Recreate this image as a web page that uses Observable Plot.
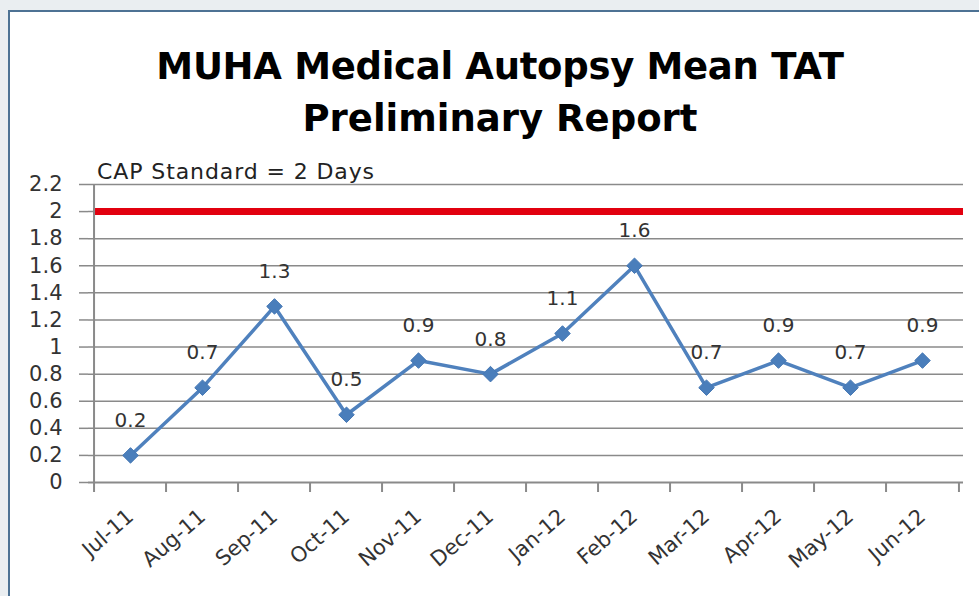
<!DOCTYPE html>
<html>
<head>
<meta charset="utf-8">
<script src="https://cdn.jsdelivr.net/npm/d3@7"></script>
<script src="https://cdn.jsdelivr.net/npm/@observablehq/plot@0.6"></script>
<style>
  html, body { margin: 0; padding: 0; width: 979px; height: 596px; overflow: hidden; background: #eaeef1; }
  #frame { position: absolute; left: 8px; top: 10px; width: 990px; height: 600px; background: #fff;
           border-left: 2px solid #4d7294; border-top: 2px solid #4d7294; }
  .title { position: absolute; left: 100px; width: 800px; text-align: center; font-family: "DejaVu Sans", sans-serif;
           font-weight: bold; font-size: 37px; line-height: 37px; color: #000; white-space: nowrap; }
  #cap { position: absolute; left: 97px; top: 161px; font-family: "DejaVu Sans", sans-serif; font-size: 22px;
         line-height: 22px; color: #222; white-space: nowrap; letter-spacing: 0.9px; }
  #chart { position: absolute; left: 0; top: 0; }
</style>
</head>
<body>
<div id="frame"></div>
<div class="title" style="top:48px; letter-spacing:-0.3px;">MUHA Medical Autopsy Mean TAT</div>
<div class="title" style="top:100px;">Preliminary Report</div>
<div id="cap">CAP Standard = 2 Days</div>
<div id="chart"></div>
<script>
const months = ["Jul-11","Aug-11","Sep-11","Oct-11","Nov-11","Dec-11","Jan-12","Feb-12","Mar-12","Apr-12","May-12","Jun-12"];
const tat = [0.2, 0.7, 1.3, 0.5, 0.9, 0.8, 1.1, 1.6, 0.7, 0.9, 0.7, 0.9];
const yTicks = [0, 0.2, 0.4, 0.6, 0.8, 1, 1.2, 1.4, 1.6, 1.8, 2, 2.2];
const capStandard = 2;

const data = months.map((m, i) => ({month: m, value: tat[i]}));

const W = 979, H = 596, mL = 88, mR = 16, mT = 184, mB = 114;
const bw = (W - mL - mR) / months.length;
const gridColor = "#8a8a8a";

const chart = Plot.plot({
  width: W, height: H,
  marginLeft: mL, marginRight: mR, marginTop: mT, marginBottom: mB,
  style: {background: "transparent", fontFamily: "DejaVu Sans, sans-serif", overflow: "visible"},
  x: {type: "point", domain: months, padding: 0.5},
  y: {domain: [0, 2.2]},
  marks: [
    Plot.ruleY(yTicks.slice(1), {stroke: gridColor, strokeWidth: 1.5}),
    Plot.ruleY([capStandard], {stroke: "#e2000f", strokeWidth: 7, insetLeft: 5}),
    Plot.ruleY([0], {stroke: gridColor, strokeWidth: 2}),
    Plot.ruleX([months[0]], {y1: 0, y2: 2.2, dx: -bw / 2, stroke: gridColor, strokeWidth: 2}),
    Plot.tickX(months, {x: d => d, dx: -bw / 2, insetTop: H - mT - mB, insetBottom: -10, stroke: gridColor, strokeWidth: 2}),
    Plot.tickX([months[months.length - 1]], {x: d => d, dx: bw / 2, insetTop: H - mT - mB, insetBottom: -10, stroke: gridColor, strokeWidth: 2}),
    Plot.axisY({ticks: yTicks, tickFormat: d => String(+d.toFixed(1)), tickSize: 9, tickPadding: 17, label: null,
                fontSize: 21, fill: "#333", stroke: gridColor, strokeWidth: 1.5}),
    Plot.axisX({tickSize: 0, tickRotate: -41, tickPadding: 31, fontSize: 21, fill: "#333", label: null}),
    Plot.line(data, {x: "month", y: "value", stroke: "#4f81bd", strokeWidth: 3.5}),
    Plot.dot(data, {x: "month", y: "value", symbol: "diamond2", r: 7, fill: "#4a7ebb", stroke: "#4477b4", strokeWidth: 1}),
    Plot.text(data, {x: "month", y: "value", text: d => String(d.value), dy: -35, fontSize: 20, fill: "#333"})
  ]
});
document.getElementById("chart").appendChild(chart);
</script>
</body>
</html>
